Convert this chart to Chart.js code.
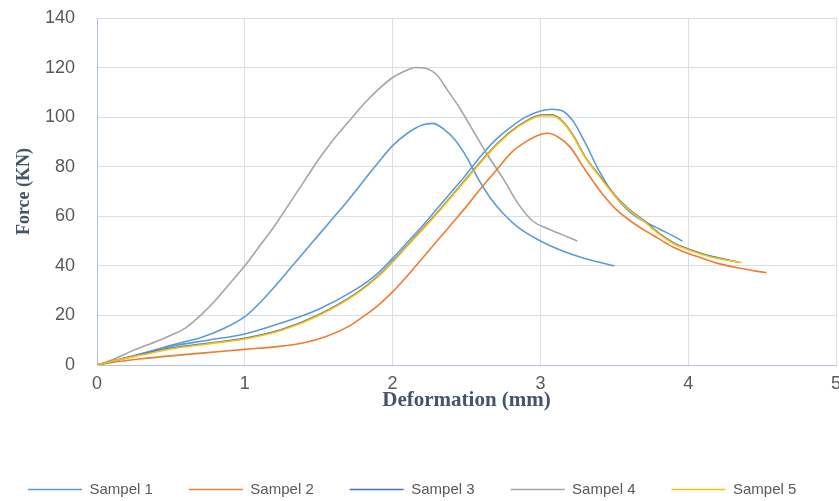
<!DOCTYPE html>
<html>
<head>
<meta charset="utf-8">
<script src="https://cdn.jsdelivr.net/npm/chart.js@4"></script>
<style>
  html, body { margin: 0; padding: 0; background: #fff; }
  #wrap { width: 839px; height: 501px; }
</style>
</head>
<body>
<div id="wrap"><canvas id="chart"></canvas></div>
<script>
// Force (KN) vs Deformation (mm)
const xTicks = [0, 1, 2, 3, 4, 5];
const yTicks = [0, 20, 40, 60, 80, 100, 120, 140];
const seriesNames = ["Sampel 1", "Sampel 2", "Sampel 3", "Sampel 4", "Sampel 5"];

const sampel1 = [
  [0, 0], [0.1, 1.5], [0.3, 4.5], [0.5, 8], [0.6, 9.5], [0.7, 11], [0.85, 14.5],
  [1.0, 19.5], [1.1, 25], [1.2, 31.5], [1.3, 38.5], [1.4, 45.5], [1.5, 52.5],
  [1.6, 59.5], [1.7, 66.5], [1.8, 74], [1.9, 81.5], [2.0, 88.5], [2.1, 93.5],
  [2.2, 96.8], [2.27, 97.5], [2.35, 95], [2.42, 91], [2.5, 84], [2.58, 75],
  [2.66, 67.5], [2.75, 61], [2.85, 55.5], [3.0, 50], [3.15, 46], [3.3, 43], [3.5, 40]
];
const sampel2 = [
  [0, 0], [0.1, 1], [0.3, 2.5], [0.5, 3.7], [0.75, 5], [1.0, 6.3], [1.2, 7.3],
  [1.4, 9], [1.55, 11.5], [1.7, 15.5], [1.8, 19.5], [1.9, 24], [2.0, 29.5],
  [2.1, 36], [2.2, 43], [2.3, 50], [2.4, 57], [2.5, 64], [2.6, 71.5], [2.7, 78.5],
  [2.8, 85.5], [2.9, 90], [3.0, 93], [3.05, 93.5], [3.12, 92], [3.2, 88],
  [3.3, 79], [3.4, 70.5], [3.5, 63.5], [3.6, 58.5], [3.7, 54.5], [3.8, 51],
  [3.9, 47.5], [4.0, 45], [4.1, 43], [4.2, 41], [4.35, 39], [4.53, 37.2]
];
const sampel3 = [
  [0, 0], [0.1, 1.5], [0.3, 4.2], [0.5, 6.8], [0.75, 8.8], [1.0, 10.8], [1.25, 14.3],
  [1.5, 20.3], [1.75, 28.8], [1.9, 35.8], [2.0, 41.8], [2.1, 48.3], [2.2, 54.8],
  [2.3, 61.3], [2.4, 68.3], [2.5, 75.3], [2.6, 82.3], [2.7, 88.8], [2.8, 94.3],
  [2.9, 98.3], [3.0, 100.8], [3.08, 100.9], [3.15, 98.3], [3.22, 92.8], [3.3, 84.3],
  [3.4, 76.3], [3.5, 68.8], [3.6, 62.8], [3.7, 58.3], [3.8, 53.3], [3.9, 49.3],
  [4.0, 46.8], [4.1, 44.8], [4.2, 43.3], [4.34, 41.5]
];
const sampel4 = [
  [0, 0], [0.1, 2], [0.25, 6], [0.4, 9.5], [0.5, 12], [0.6, 15], [0.7, 20],
  [0.8, 26], [0.9, 33], [1.0, 40], [1.1, 48], [1.2, 56], [1.3, 65], [1.4, 74],
  [1.5, 83], [1.6, 91], [1.7, 98], [1.8, 105], [1.9, 111], [2.0, 116], [2.1, 119],
  [2.15, 120], [2.22, 119.7], [2.3, 117], [2.37, 111], [2.45, 104], [2.55, 94],
  [2.65, 84], [2.75, 75], [2.85, 65], [2.95, 58], [3.05, 55], [3.15, 52.5], [3.25, 50]
];
const sampel5 = [
  [0, 0], [0.1, 1.5], [0.3, 4], [0.5, 6.5], [0.75, 8.5], [1.0, 10.5], [1.25, 14],
  [1.5, 20], [1.75, 28.5], [1.9, 35.5], [2.0, 41.5], [2.1, 48], [2.2, 54.5],
  [2.3, 61], [2.4, 68], [2.5, 75], [2.6, 82], [2.7, 88.5], [2.8, 94], [2.9, 98],
  [3.0, 100.5], [3.08, 100.6], [3.15, 98], [3.22, 92.5], [3.3, 84], [3.4, 76],
  [3.5, 68.5], [3.6, 62.5], [3.7, 58], [3.8, 53], [3.9, 49], [4.0, 46.5],
  [4.1, 44.5], [4.2, 43], [4.36, 41.3]
];
// second light blue curve in the picture, no legend entry
const sampelExtra = [
  [0, 0], [0.1, 1.5], [0.3, 4.5], [0.5, 7.5], [0.75, 10], [1.0, 12.5], [1.25, 17],
  [1.5, 22.5], [1.75, 30.5], [1.9, 37], [2.0, 43], [2.1, 49.5], [2.2, 56],
  [2.3, 63], [2.4, 70], [2.5, 77], [2.6, 84.5], [2.7, 91], [2.8, 96], [2.9, 100],
  [3.0, 102.5], [3.08, 103.2], [3.15, 102.5], [3.22, 98.5], [3.3, 90], [3.4, 78],
  [3.5, 68.5], [3.6, 62], [3.7, 58], [3.8, 55], [3.9, 52], [3.96, 50]
];

const colors = ["#5B9BD5", "#ED7D31", "#4472C4", "#A5A5A5", "#FFC000"];
const allSeries = [sampel1, sampel2, sampel3, sampel4, sampel5];
const drawOrder = [2, 2, 1, 2, 0];

const toPoints = (arr) => arr.map(([x, y]) => ({ x, y }));

const makeDataset = (label, arr, color, order) => ({
  label,
  data: toPoints(arr),
  borderColor: color,
  backgroundColor: color,
  pointBorderColor: color,
  pointBackgroundColor: color,
  pointBorderWidth: 1.6,
  order,
});

const datasets = allSeries.map((s, i) => makeDataset(seriesNames[i], s, colors[i], drawOrder[i]));
datasets.push(makeDataset("", sampelExtra, colors[0], 2));

const tickFont = { family: "'Liberation Sans', Arial, sans-serif", size: 18, lineHeight: 1 };
const titleFont = { family: "'Liberation Serif', 'Times New Roman', serif", weight: "bold" };

new Chart(document.getElementById("chart").getContext("2d"), {
  type: "scatter",
  data: { datasets },
  options: {
    responsive: true,
    maintainAspectRatio: false,
    animation: false,
    showLine: true,
    elements: {
      point: { radius: 0, hoverRadius: 0 },
      line: { borderWidth: 1.6, cubicInterpolationMode: "monotone", fill: false },
    },
    layout: { padding: { top: 18, left: -8, right: 0, bottom: -6 } },
    plugins: {
      tooltip: { enabled: false },
      legend: {
        position: "bottom",
        align: "start",
        labels: {
          usePointStyle: true,
          pointStyle: "line",
          pointStyleWidth: 54,
          padding: 36,
          color: "#595959",
          font: { family: "'Liberation Sans', Arial, sans-serif", size: 15 },
          filter: (item) => item.text !== "",
          sort: (a, b) => a.datasetIndex - b.datasetIndex,
        },
      },
    },
    scales: {
      x: {
        type: "linear",
        min: 0,
        max: 5,
        afterBuildTicks: (axis) => { axis.ticks = xTicks.map((v) => ({ value: v })); },
        afterFit: (axis) => { axis.paddingRight = 3; },
        ticks: { color: "#595959", font: tickFont, padding: 10 },
        grid: { color: "#D9DFEA", drawTicks: false },
        border: { color: "#B4C2D8" },
        title: {
          display: true,
          text: "Deformation (mm)",
          color: "#44546A",
          font: { ...titleFont, size: 21, lineHeight: 1 },
          padding: { top: -13, bottom: 35 },
        },
      },
      y: {
        type: "linear",
        min: 0,
        max: 140,
        afterBuildTicks: (axis) => { axis.ticks = yTicks.map((v) => ({ value: v })); },
        afterFit: (axis) => { axis.paddingTop = 0; },
        ticks: { color: "#595959", font: tickFont, padding: 22 },
        grid: { color: "#D9DFEA", drawTicks: false },
        border: { color: "#B4C2D8" },
        title: {
          display: true,
          text: "Force (KN)",
          color: "#44546A",
          font: { ...titleFont, size: 18, lineHeight: 1 },
          padding: { top: 23, bottom: -10 },
        },
      },
    },
  },
});
</script>
</body>
</html>
